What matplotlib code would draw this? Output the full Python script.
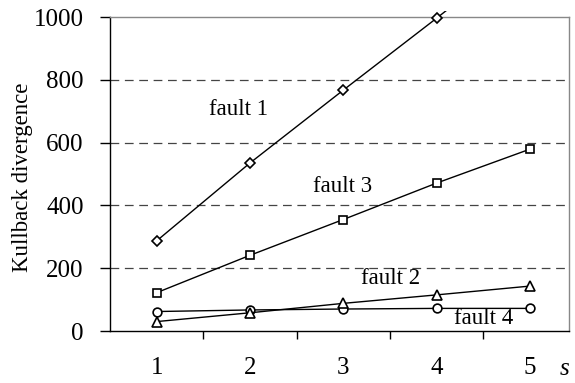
import matplotlib.pyplot as plt
from matplotlib.patches import Rectangle

plt.rcParams['font.family'] = ['Liberation Serif', 'DejaVu Serif']

# Data
s_values = [1, 2, 3, 4, 5]
fault1 = [287, 535, 767, 996, 1230]
fault2 = [30, 58, 88, 115, 143]
fault3 = [122, 241, 355, 471, 579]
fault4 = [62, 67, 70, 72, 72]
y_ticks = [0, 200, 400, 600, 800, 1000]

fig = plt.figure(figsize=(5.75, 3.83), dpi=100)
ax = fig.add_axes([110 / 575, 1 - 331 / 383, (569 - 110) / 575, (331 - 17) / 383])

ax.set_xlim(0.5, 5.42)
ax.set_ylim(0, 1000)

# dashed gridlines
for v in y_ticks[1:-1]:
    ax.axhline(v, color='#444444', lw=0.9, ls=(0, (7, 4.5)), zorder=1)

kw = dict(color='black', lw=1.0, mfc='white', mec='black', mew=1.2, zorder=3)
l1, = ax.plot(s_values, fault1, marker='D', ms=5.5, **kw)
ax.plot(s_values, fault3, marker='s', ms=6.3, **kw)
ax.plot(s_values, fault4, marker='o', ms=6.3, **kw)
ax.plot(s_values, fault2, marker='^', ms=7.5, **kw)

# fault 1 runs a little past the top of the frame
clip = Rectangle((0.5, 0), 5, 1018, transform=ax.transData)
l1.set_clip_path(clip)

fs = 16.5
ax.text(1.88, 704, 'fault 1', fontsize=fs, ha='center', va='center')
ax.text(2.99, 459, 'fault 3', fontsize=fs, ha='center', va='center')
ax.text(3.51, 167, 'fault 2', fontsize=fs, ha='center', va='center')
ax.text(4.5, 40, 'fault 4', fontsize=fs, ha='center', va='center')

ax.set_yticks(y_ticks)
ax.set_yticklabels([str(v) for v in y_ticks], fontsize=18)
ax.set_xticks([1.5, 2.5, 3.5, 4.5])
ax.set_xticklabels([])
ax.set_xticks(s_values, minor=True)
ax.set_xticklabels([str(v) for v in s_values], minor=True, fontsize=18)
ax.tick_params(axis='x', which='minor', length=0, pad=19)
ax.tick_params(axis='x', which='major', direction='out', length=6, width=1)
ax.tick_params(axis='y', direction='out', length=7, width=1, pad=12)

for side in ['top', 'right']:
    ax.spines[side].set_color('#888888')
    ax.spines[side].set_linewidth(1.0)
for side in ['left', 'bottom']:
    ax.spines[side].set_color('black')
    ax.spines[side].set_linewidth(1.0)

ax.set_ylabel('Kullback divergence', fontsize=16.5)
ax.yaxis.set_label_coords(-0.168, 0.49)
fig.text(560 / 575, 1 - 369 / 383, 's', fontsize=18, style='italic', ha='left', va='center')

fig.savefig('out.png', dpi=100)
